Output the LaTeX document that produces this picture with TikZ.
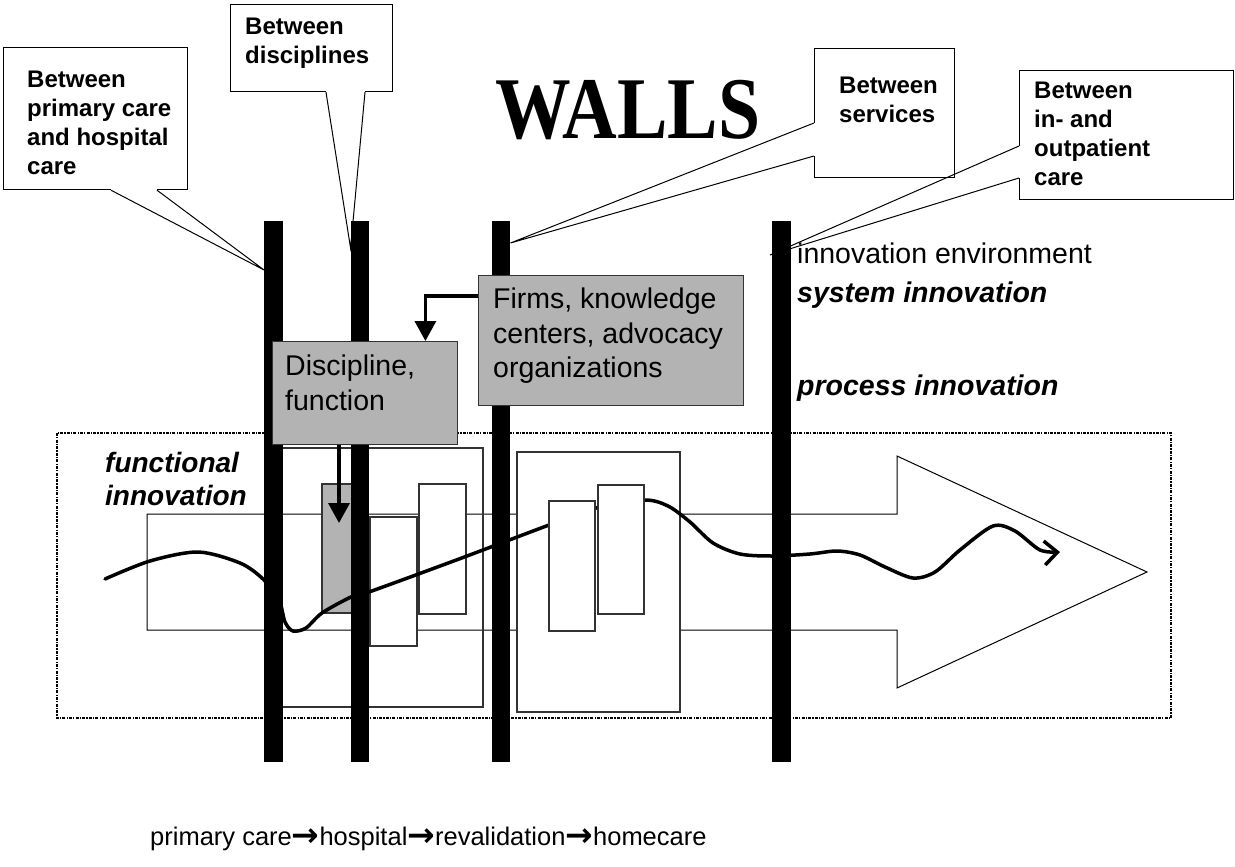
\documentclass[tikz,border=0pt]{standalone}
\usepackage{fontspec}
\setmainfont{Liberation Sans}
\newfontfamily\wallfont{Liberation Serif}
\newfontfamily\arrowfont{DejaVu Sans}
\usepackage{xcolor}
\usetikzlibrary{arrows.meta, positioning}
\definecolor{boxgray}{HTML}{B3B3B3}
\newcommand{\calltail}[3]{%
  \draw[white, line width=2.2pt] (#1) -- (#2);
  \draw[line width=1pt, line join=miter] (#1) -- (#3) -- (#2);}
\newcommand{\nextstep}{\raisebox{-1.5pt}{\arrowfont\bfseries\fontsize{33}{33}\selectfont →}}

\begin{document}
\begin{tikzpicture}[
  x=1pt, y=-1pt,
  wall/.style={fill=black, minimum width=18.5pt, minimum height=541pt, inner sep=0},
  callout/.style={draw, fill=white, line width=1.2pt, inner sep=0, anchor=north west},
  calltext/.style={inner sep=0, align=left, anchor=north west, font=\bfseries\fontsize{24}{29}\selectfont},
  graybox/.style={draw=black!80, fill=boxgray, line width=1.4pt, inner sep=0, anchor=north west},
  boxtext/.style={inner sep=0, align=left, anchor=north west, font=\fontsize{28.5}{34.5}\selectfont},
  thin/.style={draw=black!80, line width=1.2pt},
  whitebox/.style={thin, fill=white},
  frame/.style={line width=1.6pt, dash pattern=on 3pt off 1.2pt on 1.2pt off 1.2pt},
  flow/.style={line width=3.5pt, line cap=round, line join=round},
  feed/.style={line width=3.5pt, -{Triangle[length=20pt,width=21pt]}},
  label/.style={inner sep=0, anchor=base west, font=\fontsize{28.5}{33}\selectfont}
]
  \useasboundingbox (0,0) rectangle (1235,867);

  \draw[frame] (57,433) rectangle (1171,718);
  \draw[fill=white, line width=1pt] (147,514) -- (897,514) -- (897,456) -- (1147,572)
    -- (897,688) -- (897,630) -- (147,630) -- cycle;

  \draw[thin] (270,448) rectangle (483,707);
  \draw[whitebox] (517,452) rectangle (680,712);
  \draw[thin, fill=boxgray] (322,484) rectangle (366,613);
  \draw[whitebox] (370,517) rectangle (417,646);
  \draw[whitebox] (419,484) rectangle (466,614);

  \draw[flow, -{Straight Barb[length=13pt,width=24pt]}] plot[smooth] coordinates {
    (105,579) (150,561) (198,552) (240,563) (263,579) (279,600) (285,622) (293,631)
    (306,628) (322,613) (351,597) (369,592) (459,559) (549,525) (596,508) (644,500)
    (668,506) (690,522) (713,543) (740,554) (772,556) (810,554) (837,551) (860,555)
    (885,567) (913,578) (935,572) (960,550) (993,526) (1015,531) (1040,550) (1060,552)};

  \draw[whitebox] (549,501) rectangle (595,631);
  \draw[whitebox] (598,485) rectangle (644,614);

  \node[callout, minimum width=184pt, minimum height=142pt] (cb1) at (3,47) {};
  \node[calltext, below right=24pt and 24pt of cb1.north west] (ct1)
    {Between\\primary care\\and hospital\\care};
  \node[callout, minimum width=162pt, minimum height=87pt] (cb2) at (230,4) {};
  \node[calltext, below right=14pt and 15pt of cb2.north west] (ct2)
    {Between\\disciplines};
  \node[callout, minimum width=140pt, minimum height=129pt] (cb3) at (814,48) {};
  \node[calltext, below right=29pt and 25pt of cb3.north west] (ct3)
    {Between\\services};
  \node[callout, minimum width=214pt, minimum height=129pt] (cb4) at (1019,70) {};
  \node[calltext, below right=12pt and 15pt of cb4.north west] (ct4)
    {Between\\in- and\\outpatient\\care};

  \foreach \x/\n in {273.5/1, 360/2, 501/3, 781.5/4}
    \node[wall] (w\n) at (\x,491.5) {};
  \coordinate (tip4) at (770,255);

  \calltail{[xshift=108pt]cb1.south west}{[xshift=154pt]cb1.south west}{w1.west |- 0,270}
  \calltail{[xshift=96pt]cb2.south west}{[xshift=135pt]cb2.south west}{w2.west |- 0,248}
  \calltail{[yshift=-75pt]cb3.north west}{[yshift=-108pt]cb3.north west}{w3.east |- 0,243}
  \calltail{[yshift=-76pt]cb4.north west}{[yshift=-108pt]cb4.north west}{tip4}
  \fill (w4.north west) rectangle (w4.south east);

  \node[graybox, minimum width=265pt, minimum height=130pt] (firms) at (478,275) {};
  \node[boxtext, below right=13pt and 15pt of firms.north west] (firmstext)
    {Firms, knowledge\\centers, advocacy\\organizations};
  \node[graybox, minimum width=185pt, minimum height=103pt] (disc) at (272,341) {};
  \node[boxtext, below right=14pt and 13pt of disc.north west] (disctext)
    {Discipline,\\function};
  \coordinate (dtip) at (339,523);

  \draw[feed] ([yshift=-21pt]firms.north west) -| ([xshift=-33pt]disc.north east);
  \draw[feed] (disc.south -| dtip) -- (dtip);

  \node[inner sep=0, anchor=base west, xscale=0.86, font=\wallfont\bfseries\fontsize{88}{88}\selectfont]
    (walls) at (495,138) {WALLS};
  \node[label] (env) at (797,263) {innovation environment};
  \node[label, font=\bfseries\itshape\fontsize{28.5}{33}\selectfont] (sys) at (797,302) {system innovation};
  \node[label, font=\bfseries\itshape\fontsize{28.5}{33}\selectfont] (proc) at (797,395) {process innovation};
  \node[label, anchor=north west, align=left, font=\bfseries\itshape\fontsize{28}{33}\selectfont]
    (func) at (105,452) {functional\\innovation};
  \node[label, font=\fontsize{25.5}{30}\selectfont] (chain) at (150,845)
    {primary care\nextstep hospital\nextstep revalidation\nextstep homecare};
\end{tikzpicture}
\end{document}
